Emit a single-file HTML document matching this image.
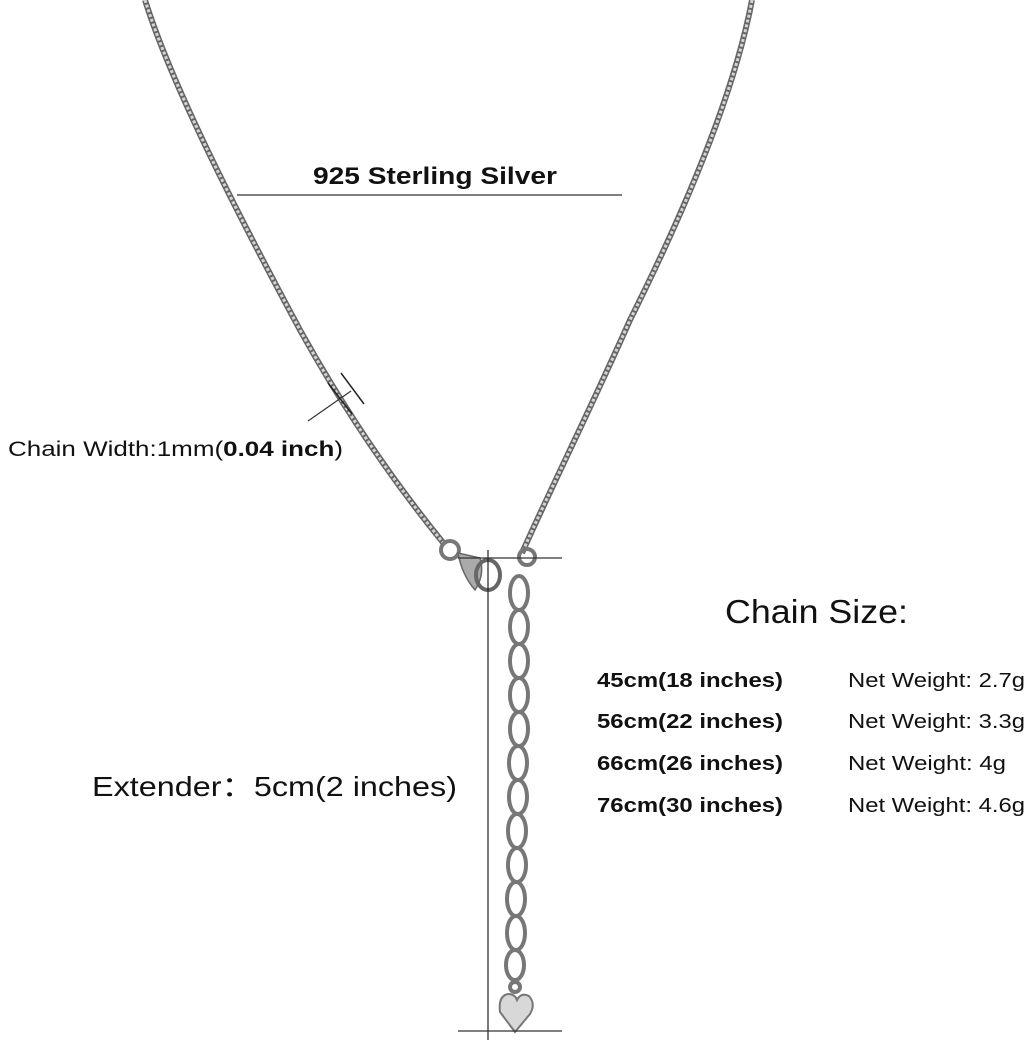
<!DOCTYPE html>
<html><head><meta charset="utf-8"><style>
body{margin:0;background:#fff;}
svg{display:block}
text{font-family:"Liberation Sans",Arial,sans-serif;fill:#111}
</style></head><body>
<svg width="1027" height="1047" viewBox="0 0 1027 1047" xmlns="http://www.w3.org/2000/svg">
<path d="M145,0 C170,80 230,200 300,330 C350,420 400,490 445,545" fill="none" stroke="#666" stroke-width="6"/>
<path d="M145,0 C170,80 230,200 300,330 C350,420 400,490 445,545" fill="none" stroke="#d4d4d4" stroke-width="3" stroke-dasharray="3 2"/>
<path d="M752,0 C735,90 690,200 630,320 C590,410 550,490 522,553" fill="none" stroke="#666" stroke-width="6"/>
<path d="M752,0 C735,90 690,200 630,320 C590,410 550,490 522,553" fill="none" stroke="#d4d4d4" stroke-width="3" stroke-dasharray="3 2"/>
<circle cx="450" cy="550" r="9" fill="none" stroke="#777" stroke-width="4"/>
<path d="M458,553 L480,558 Q485,575 475,590 Q462,575 458,553Z" fill="#aaa" stroke="#666" stroke-width="1.5"/>
<ellipse cx="488" cy="575" rx="12" ry="15" fill="none" stroke="#666" stroke-width="4"/>
<circle cx="527" cy="557" r="8" fill="none" stroke="#777" stroke-width="4"/>
<g fill="none" stroke="#777" stroke-width="4">
<ellipse cx="519" cy="593" rx="9" ry="17"/>
<ellipse cx="519" cy="627" rx="9" ry="17"/>
<ellipse cx="519" cy="661" rx="9" ry="17"/>
<ellipse cx="519" cy="695" rx="9" ry="17"/>
<ellipse cx="519" cy="729" rx="9" ry="17"/>
<ellipse cx="518" cy="763" rx="9" ry="17"/>
<ellipse cx="518" cy="797" rx="9" ry="17"/>
<ellipse cx="517" cy="831" rx="9" ry="17"/>
<ellipse cx="517" cy="865" rx="9" ry="17"/>
<ellipse cx="516" cy="899" rx="9" ry="17"/>
<ellipse cx="516" cy="933" rx="9" ry="17"/>
<ellipse cx="515" cy="965" rx="9" ry="15"/>
<circle cx="515" cy="987" r="5"/>
</g>
<path d="M515,1032 L500,1012 Q498,996 508,994 Q515,994 517,1000 Q521,992 529,996 Q536,1004 530,1014Z" fill="#d8d8d8" stroke="#777" stroke-width="2"/>
<line x1="237" y1="195" x2="622" y2="195" stroke="#333" stroke-width="1.2"/>
<line x1="488" y1="550" x2="488" y2="1040" stroke="#222" stroke-width="1.2"/>
<line x1="458" y1="558" x2="562" y2="558" stroke="#333" stroke-width="1.2"/>
<line x1="458" y1="1031" x2="562" y2="1031" stroke="#333" stroke-width="1.2"/>
<line x1="328" y1="383" x2="352" y2="414" stroke="#222" stroke-width="1.5"/>
<line x1="341" y1="373" x2="364" y2="404" stroke="#222" stroke-width="1.5"/>
<line x1="308" y1="421" x2="351" y2="391" stroke="#333" stroke-width="1.2"/>
<text x="313" y="184" font-size="24" font-weight="bold" textLength="244" lengthAdjust="spacingAndGlyphs">925 Sterling Silver</text>
<text x="8" y="456" font-size="21" textLength="335" lengthAdjust="spacingAndGlyphs">Chain Width:1mm(<tspan font-weight="bold">0.04 inch</tspan>)</text>
<text x="92" y="796" font-size="28" textLength="365" lengthAdjust="spacingAndGlyphs">Extender：5cm(2 inches)</text>
<text x="725" y="623" font-size="33" textLength="183" lengthAdjust="spacingAndGlyphs">Chain Size:</text>
<g font-size="20" font-weight="bold">
<text x="597" y="687" textLength="186" lengthAdjust="spacingAndGlyphs">45cm(18 inches)</text>
<text x="597" y="728" textLength="186" lengthAdjust="spacingAndGlyphs">56cm(22 inches)</text>
<text x="597" y="770" textLength="186" lengthAdjust="spacingAndGlyphs">66cm(26 inches)</text>
<text x="597" y="812" textLength="186" lengthAdjust="spacingAndGlyphs">76cm(30 inches)</text>
</g>
<g font-size="20">
<text x="848" y="687" textLength="177" lengthAdjust="spacingAndGlyphs">Net Weight: 2.7g</text>
<text x="848" y="728" textLength="177" lengthAdjust="spacingAndGlyphs">Net Weight: 3.3g</text>
<text x="848" y="770" textLength="158" lengthAdjust="spacingAndGlyphs">Net Weight: 4g</text>
<text x="848" y="812" textLength="177" lengthAdjust="spacingAndGlyphs">Net Weight: 4.6g</text>
</g>
</svg>
</body></html>
